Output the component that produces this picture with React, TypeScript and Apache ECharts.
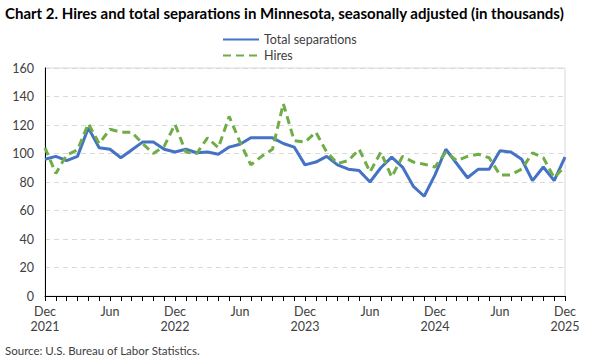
import React, { useEffect, useRef } from "react";
import * as echarts from "echarts";

const titleText = "Chart 2. Hires and total separations in Minnesota, seasonally adjusted (in thousands)";
const sourceText = "Source: U.S. Bureau of Labor Statistics.";

const months = [
  "Dec 2021",
  "Jan 2022", "Feb 2022", "Mar 2022", "Apr 2022", "May 2022", "Jun 2022", "Jul 2022", "Aug 2022", "Sep 2022", "Oct 2022", "Nov 2022", "Dec 2022",
  "Jan 2023", "Feb 2023", "Mar 2023", "Apr 2023", "May 2023", "Jun 2023", "Jul 2023", "Aug 2023", "Sep 2023", "Oct 2023", "Nov 2023", "Dec 2023",
  "Jan 2024", "Feb 2024", "Mar 2024", "Apr 2024", "May 2024", "Jun 2024", "Jul 2024", "Aug 2024", "Sep 2024", "Oct 2024", "Nov 2024", "Dec 2024",
  "Jan 2025", "Feb 2025", "Mar 2025", "Apr 2025", "May 2025", "Jun 2025", "Jul 2025", "Aug 2025", "Sep 2025", "Oct 2025", "Nov 2025", "Dec 2025",
];

const totalSeparations = [
  96,
  98, 95, 98, 118, 104, 103, 97, 102.5, 108, 108, 103, 101,
  103, 100.5, 101, 99.5, 104.5, 106.5, 111, 111, 111, 107, 104.5, 92,
  94, 98, 92, 89, 88, 80, 90, 97.5, 90.5, 77, 70, 85,
  103, 93, 83, 89, 89, 102, 101, 96, 81, 90.5, 81, 97.5,
];

const hires = [
  104,
  86, 99, 102.5, 121, 107, 117, 115, 115, 107, 100, 105, 120.5,
  101, 100, 111, 104, 126, 108, 92, 98, 103, 135, 109, 108,
  115, 101, 93, 95, 103, 87, 101, 83.5, 98, 94, 92.5, 90.5,
  101, 95, 98, 99.5, 97, 85, 85, 89, 100.5, 97, 83, 91,
];

const yTicks = { min: 0, max: 160, interval: 20 };

const FONT = "Lato, 'Noto Sans', sans-serif";

export default function App() {
  const ref = useRef<HTMLDivElement>(null);
  useEffect(() => {
    if (!ref.current) return;
    const chart = echarts.init(ref.current, undefined, { renderer: "svg" });
    chart.setOption({
      animation: false,
      backgroundColor: "#ffffff",
      textStyle: { fontFamily: FONT },
      title: {
        text: titleText,
        left: 0,
        top: 0,
        textStyle: { fontFamily: FONT, fontSize: 15, fontWeight: "bold", color: "#000000" },
      },
      legend: {
        orient: "vertical",
        left: 222,
        top: 33,
        padding: 0,
        itemWidth: 36,
        itemHeight: 10,
        itemGap: 3,
        itemStyle: { opacity: 0 },
        textStyle: { fontFamily: FONT, fontSize: 12.5, color: "#404040" },
        data: ["Total separations", "Hires"],
      },
      grid: {
        left: 45,
        right: 35,
        top: 68,
        bottom: 64,
        show: true,
        borderColor: "#d9d9d9",
        borderWidth: 1,
      },
      xAxis: {
        type: "category",
        data: months,
        boundaryGap: false,
        axisLine: { lineStyle: { color: "#000000", width: 1 } },
        axisTick: { interval: 0, length: 5, lineStyle: { color: "#000000" } },
        axisLabel: {
          interval: 5,
          margin: 8,
          fontSize: 12.5,
          lineHeight: 15,
          color: "#404040",
          fontFamily: FONT,
          formatter: (v: string) => {
            const [m, y] = v.split(" ");
            return m === "Dec" ? m + "\n" + y : m;
          },
        },
        splitLine: { show: false },
      },
      yAxis: {
        type: "value",
        min: yTicks.min,
        max: yTicks.max,
        interval: yTicks.interval,
        axisLine: { show: true, lineStyle: { color: "#000000", width: 1 } },
        axisTick: { show: false },
        axisLabel: { fontSize: 12.5, color: "#404040", margin: 11, fontFamily: FONT },
        splitLine: { lineStyle: { color: "#d9d9d9", type: [5, 4] } },
      },
      series: [
        {
          name: "Total separations",
          type: "line",
          data: totalSeparations,
          symbol: "none",
          showSymbol: false,
          lineStyle: { color: "#4472C4", width: 3 },
          itemStyle: { color: "#4472C4" },
        },
        {
          name: "Hires",
          type: "line",
          data: hires,
          symbol: "none",
          showSymbol: false,
          lineStyle: { color: "#70AD47", width: 3, type: [8, 5] },
          itemStyle: { color: "#70AD47" },
        },
      ],
      graphic: [
        {
          type: "text",
          left: 5,
          top: 344,
          style: { text: sourceText, fontFamily: FONT, fontSize: 11.5, fill: "#404040" },
        },
      ],
    });
    return () => chart.dispose();
  }, []);
  return (
    <div
      ref={ref}
      style={{ width: 600, height: 360, position: "fixed", left: 0, top: 0 }}
    />
  );
}
